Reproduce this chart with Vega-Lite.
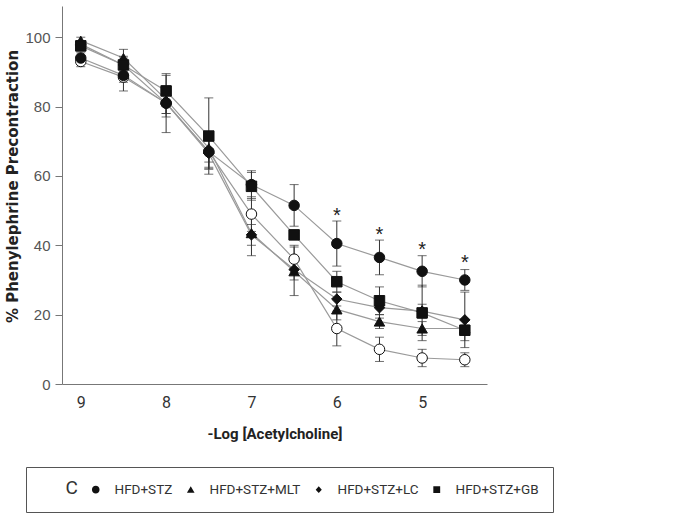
{
  "$schema": "https://vega.github.io/schema/vega-lite/v6.json",
  "width": 425,
  "height": 378,
  "autosize": "none",
  "padding": {"left": 62, "top": 6, "right": 196, "bottom": 141},
  "background": "white",
  "config": {
    "view": {"stroke": null},
    "font": "Liberation Sans"
  },
  "datasets": {
    "main": [
      {"group": "C", "x": 9, "y": 93, "err": 1.5},
      {"group": "C", "x": 8.5, "y": 88.5, "err": 4},
      {"group": "C", "x": 8, "y": 81, "err": 8.5},
      {"group": "C", "x": 7.5, "y": 67, "err": 5},
      {"group": "C", "x": 7, "y": 49, "err": 5},
      {"group": "C", "x": 6.5, "y": 36, "err": 4},
      {"group": "C", "x": 6, "y": 16, "err": 5},
      {"group": "C", "x": 5.5, "y": 10, "err": 3.5},
      {"group": "C", "x": 5, "y": 7.5, "err": 2.5},
      {"group": "C", "x": 4.5, "y": 7, "err": 2},
      {"group": "HFD+STZ", "x": 9, "y": 94, "err": 1.5},
      {"group": "HFD+STZ", "x": 8.5, "y": 89, "err": 2},
      {"group": "HFD+STZ", "x": 8, "y": 81, "err": 4},
      {"group": "HFD+STZ", "x": 7.5, "y": 67, "err": 5},
      {"group": "HFD+STZ", "x": 7, "y": 57.5, "err": 4},
      {"group": "HFD+STZ", "x": 6.5, "y": 51.5, "err": 6},
      {"group": "HFD+STZ", "x": 6, "y": 40.5, "err": 6.5},
      {"group": "HFD+STZ", "x": 5.5, "y": 36.5, "err": 5},
      {"group": "HFD+STZ", "x": 5, "y": 32.5, "err": 4.5},
      {"group": "HFD+STZ", "x": 4.5, "y": 30, "err": 3},
      {"group": "HFD+STZ+MLT", "x": 9, "y": 99, "err": 1},
      {"group": "HFD+STZ+MLT", "x": 8.5, "y": 94, "err": 2.5},
      {"group": "HFD+STZ+MLT", "x": 8, "y": 82, "err": 4},
      {"group": "HFD+STZ+MLT", "x": 7.5, "y": 68, "err": 4},
      {"group": "HFD+STZ+MLT", "x": 7, "y": 43.5, "err": 6.5},
      {"group": "HFD+STZ+MLT", "x": 6.5, "y": 32.5, "err": 7},
      {"group": "HFD+STZ+MLT", "x": 6, "y": 21.5, "err": 3},
      {"group": "HFD+STZ+MLT", "x": 5.5, "y": 18, "err": 2},
      {"group": "HFD+STZ+MLT", "x": 5, "y": 16, "err": 2},
      {"group": "HFD+STZ+MLT", "x": 4.5, "y": 16, "err": 1},
      {"group": "HFD+STZ+LC", "x": 9, "y": 98, "err": 1},
      {"group": "HFD+STZ+LC", "x": 8.5, "y": 92, "err": 2},
      {"group": "HFD+STZ+LC", "x": 8, "y": 81, "err": 3},
      {"group": "HFD+STZ+LC", "x": 7.5, "y": 66.5, "err": 4},
      {"group": "HFD+STZ+LC", "x": 7, "y": 43, "err": 3},
      {"group": "HFD+STZ+LC", "x": 6.5, "y": 33, "err": 3},
      {"group": "HFD+STZ+LC", "x": 6, "y": 24.5, "err": 2},
      {"group": "HFD+STZ+LC", "x": 5.5, "y": 22, "err": 3},
      {"group": "HFD+STZ+LC", "x": 5, "y": 21, "err": 2},
      {"group": "HFD+STZ+LC", "x": 4.5, "y": 18.5, "err": 8},
      {"group": "HFD+STZ+GB", "x": 9, "y": 97.5, "err": 1.5},
      {"group": "HFD+STZ+GB", "x": 8.5, "y": 92, "err": 2.5},
      {"group": "HFD+STZ+GB", "x": 8, "y": 84.5, "err": 4.5},
      {"group": "HFD+STZ+GB", "x": 7.5, "y": 71.5, "err": 11},
      {"group": "HFD+STZ+GB", "x": 7, "y": 57, "err": 4},
      {"group": "HFD+STZ+GB", "x": 6.5, "y": 43, "err": 1},
      {"group": "HFD+STZ+GB", "x": 6, "y": 29.5, "err": 3},
      {"group": "HFD+STZ+GB", "x": 5.5, "y": 24, "err": 4},
      {"group": "HFD+STZ+GB", "x": 5, "y": 20.5, "err": 8},
      {"group": "HFD+STZ+GB", "x": 4.5, "y": 15.5, "err": 3}
    ],
    "stars": [
      {"x": 6, "y": 48.5, "label": "*"},
      {"x": 5.5, "y": 43, "label": "*"},
      {"x": 5, "y": 38.5, "label": "*"},
      {"x": 4.5, "y": 35, "label": "*"}
    ]
  },
  "encoding": {
    "x": {
      "field": "x", "type": "quantitative",
      "scale": {"domain": [4.24, 9.22], "reverse": true, "zero": false, "nice": false},
      "axis": {
        "values": [9, 8, 7, 6, 5], "title": "-Log [Acetylcholine]", "ticks": false,
        "domainColor": "#777", "labelFont": "Roboto", "labelFontSize": 16, "labelColor": "#333",
        "labelPadding": 10, "titleFont": "Roboto", "titleFontSize": 15, "titleFontWeight": "bold",
        "titleColor": "#222", "titlePadding": 16, "grid": false
      }
    },
    "y": {
      "field": "y", "type": "quantitative",
      "scale": {"domain": [0, 109], "nice": false},
      "axis": {
        "values": [0, 20, 40, 60, 80, 100], "title": "% Phenylephrine Precontraction",
        "domainColor": "#777", "tickColor": "#777", "tickSize": 7, "labelFontSize": 15, "labelColor": "#555",
        "labelPadding": 5, "titleFont": "DejaVu Sans", "titleFontSize": 15, "titleFontWeight": "bold", "titleColor": "#222",
        "titlePadding": 4, "titleY": 180, "grid": false
      }
    }
  },
  "layer": [
    {
      "data": {"name": "main"},
      "mark": {"type": "line", "color": "#9a9a9a", "strokeWidth": 1.2},
      "encoding": {
        "detail": {"field": "group"}
      }
    },
    {
      "data": {"name": "main"},
      "mark": {"type": "errorbar", "ticks": {"size": 9, "color": "#333"}, "rule": {"color": "#333"}, "thickness": 1},
      "encoding": {
        "yError": {"field": "err"}
      }
    },
    {
      "data": {"name": "main"},
      "mark": {"type": "point", "filled": false, "opacity": 1, "stroke": "#111", "strokeWidth": 1},
      "encoding": {
        "shape": {
          "field": "group", "type": "nominal", "title": null,
          "scale": {
            "domain": ["C", "HFD+STZ", "HFD+STZ+MLT", "HFD+STZ+LC", "HFD+STZ+GB"],
            "range": ["circle", "circle", "triangle-up", "diamond", "square"]
          },
          "legend": null
        },
        "fill": {
          "field": "group", "type": "nominal", "title": null,
          "scale": {
            "domain": ["C", "HFD+STZ", "HFD+STZ+MLT", "HFD+STZ+LC", "HFD+STZ+GB"],
            "range": ["white", "#111", "#111", "#111", "#111"]
          },
          "legend": null
        },
        "size": {
          "field": "group", "type": "nominal", "title": null,
          "scale": {
            "domain": ["C", "HFD+STZ", "HFD+STZ+MLT", "HFD+STZ+LC", "HFD+STZ+GB"],
            "range": [110, 110, 80, 60, 100]
          },
          "legend": null
        }
      }
    },
    {
      "data": {"name": "main"},
      "mark": {"type": "point", "opacity": 0, "filled": false, "stroke": "#111", "strokeWidth": 1.2},
      "encoding": {
        "shape": {
          "field": "group", "type": "nominal", "title": null,
          "scale": {
            "domain": ["C", "HFD+STZ", "HFD+STZ+MLT", "HFD+STZ+LC", "HFD+STZ+GB"],
            "range": [
              "M-3.4,0H-1M1,0H3.4M-1,0A1,1 0 1,0 1,0A1,1 0 1,0 -1,0Z",
              "M-3.4,0H3.4M-1,0A1,1 0 1,0 1,0A1,1 0 1,0 -1,0Z",
              "M-3.4,0.3H3.4M0,-0.9L1,0.8L-1,0.8Z",
              "M-3.4,0H3.4M0,-0.9L0.8,0L0,0.9L-0.8,0Z",
              "M-3.4,0H3.4M-0.9,-0.9H0.9V0.9H-0.9Z"
            ]
          },
          "legend": {
            "orient": "none", "legendX": -36, "legendY": 461, "direction": "horizontal",
            "columns": 5, "strokeColor": "#555", "padding": 14, "columnPadding": 2,
            "labelFont": "Roboto", "labelFontSize": {"expr": "datum.label === 'C' ? 19 : 13.5"}, "labelColor": "#333", "labelOffset": 12,
            "symbolSize": 58, "symbolStrokeColor": "#111", "symbolStrokeWidth": 1.2, "symbolOpacity": 1
          }
        },
        "fill": {
          "field": "group", "type": "nominal", "title": null,
          "scale": {
            "domain": ["C", "HFD+STZ", "HFD+STZ+MLT", "HFD+STZ+LC", "HFD+STZ+GB"],
            "range": ["white", "#111", "#111", "#111", "#111"]
          }
        }
      }
    },
    {
      "data": {"name": "stars"},
      "mark": {"type": "text", "fontSize": 20, "color": "#222", "baseline": "middle"},
      "encoding": {
        "text": {"field": "label"}
      }
    }
  ],
  "resolve": {"scale": {"shape": "independent", "fill": "independent", "size": "independent"}}
}
